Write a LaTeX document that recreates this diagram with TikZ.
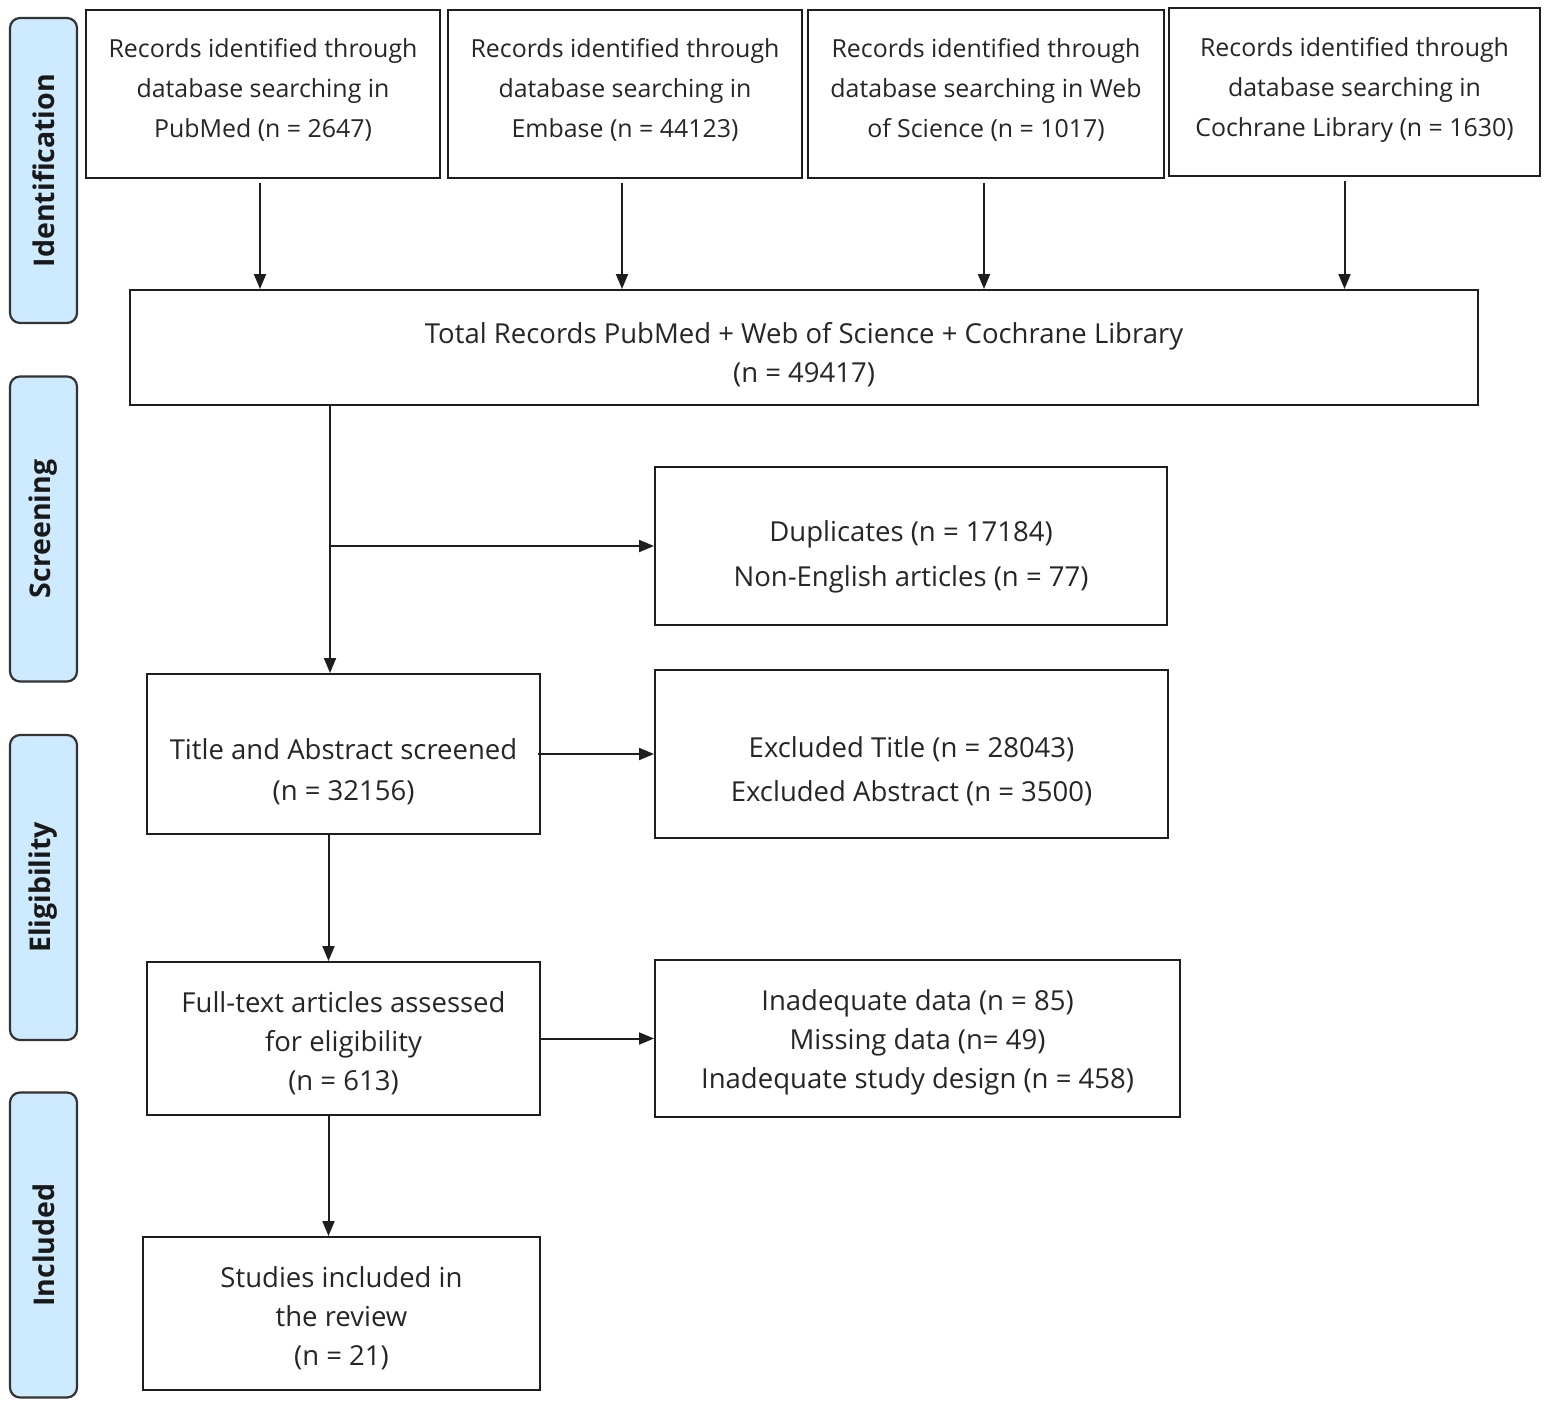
\documentclass[tikz,border=0pt]{standalone}
\usepackage{fontspec}
\setmainfont{Open Sans}
\usetikzlibrary{arrows.meta,calc}
\definecolor{barblue}{RGB}{206,234,255}
\definecolor{lineblk}{RGB}{30,30,30}
\begin{document}
\begin{tikzpicture}[x=1pt,y=-1pt,
  box/.style={draw=lineblk,line width=2pt,fill=white,inner sep=0pt},
  toptxt/.style={align=center,inner sep=0pt,text=black!85,font=\fontsize{24.9}{40}\selectfont},
  txt/.style={align=center,inner sep=0pt,text=black!85,font=\fontsize{27.5}{39}\selectfont},
  bar/.style={draw=black!80,line width=2.2pt,rounded corners=10pt,fill=barblue,
    minimum width=67pt,minimum height=305pt,inner sep=0pt},
  barlabel/.style={rotate=90,text=black!90,font=\bfseries\fontsize{28.5}{32}\selectfont},
  arr/.style={line width=2pt,draw=lineblk,-{Triangle[length=15pt,width=12pt]}},
  ln/.style={line width=2pt,draw=lineblk}]
\useasboundingbox (0,0) rectangle (1547,1407);
\fill[white] (0,0) rectangle (1547,1407);

% side bars
\node[bar] (b1) at (43.5,170.5) {};
\node[barlabel] (l1) at (b1.center) {Identification};
\node[bar] (b2) at (43.5,529) {};
\node[barlabel] (l2) at (b2.center) {Screening};
\node[bar] (b3) at (43.5,887.5) {};
\node[barlabel] (l3) at (b3.center) {Eligibility};
\node[bar] (b4) at (43.5,1245) {};
\node[barlabel] (l4) at (b4.center) {Included};

% top boxes
\node[box,minimum width=354pt,minimum height=168pt] (p1) at (263,94) {};
\node[toptxt] (p1t) at ([yshift=4pt]p1.center) {Records identified through\\database searching in\\PubMed (n = 2647)};
\node[box,minimum width=354pt,minimum height=168pt] (p2) at (625,94) {};
\node[toptxt] (p2t) at ([yshift=4pt]p2.center) {Records identified through\\database searching in\\Embase (n = 44123)};
\node[box,minimum width=356pt,minimum height=168pt] (p3) at (986,94) {};
\node[toptxt] (p3t) at ([yshift=4pt]p3.center) {Records identified through\\database searching in Web\\of Science (n = 1017)};
\node[box,minimum width=371pt,minimum height=168pt] (p4) at (1354.5,92) {};
\node[toptxt] (p4t) at ([yshift=2pt]p4.center) {Records identified through\\database searching in\\Cochrane Library (n = 1630)};

\node[box,minimum width=1348pt,minimum height=115pt] (tot) at (804,347.5) {};
\node[txt] (tott) at ([yshift=-7pt]tot.center) {Total Records PubMed + Web of Science + Cochrane Library\\(n = 49417)};

\node[box,minimum width=512pt,minimum height=158pt] (dup) at (911,546) {};
\node[txt] (dupt) at ([yshift=-11pt]dup.center) {Duplicates (n = 17184)\\[6pt]Non-English articles (n = 77)};

\node[box,minimum width=393pt,minimum height=160pt] (tit) at (343.5,754) {};
\node[txt] (titt) at ([yshift=-18pt]tit.center) {Title and Abstract screened\\[2pt](n = 32156)};

\node[box,minimum width=513pt,minimum height=168pt] (exc) at (911.5,754) {};
\node[txt] (exct) at ([yshift=-17pt]exc.center) {Excluded Title (n = 28043)\\[5pt]Excluded Abstract (n = 3500)};

\node[box,minimum width=393pt,minimum height=153pt] (ful) at (343.5,1038.5) {};
\node[txt] (fult) at ([yshift=-4.5pt]ful.center) {Full-text articles assessed\\for eligibility\\(n = 613)};

\node[box,minimum width=525pt,minimum height=157pt] (ina) at (917.5,1038.5) {};
\node[txt] (inat) at ([yshift=-4pt]ina.center) {Inadequate data (n = 85)\\Missing data (n= 49)\\Inadequate study design (n = 458)};

\node[box,minimum width=397pt,minimum height=153pt] (stu) at (341.5,1313.5) {};
\node[txt] (stut) at ([yshift=-5pt]stu.center) {Studies included in\\the review\\(n = 21)};

% arrows from databases
\foreach \n/\dx in {p1/-3,p2/-3,p3/-2,p4/-10}{
  \draw[arr,shorten <=4pt] ([xshift=\dx pt]\n.south) -- ([xshift=\dx pt]\n.south |- tot.north);
}
% main flow
\coordinate (t0) at ([xshift=-13.5pt]tit.north |- tot.south);
\coordinate (j1) at ([xshift=-13.5pt]tit.north |- dup.west);
\draw[ln] (t0) -- (j1);
\draw[arr] (j1) -- ([xshift=-13.5pt]tit.north);
\draw[arr] (j1) -- (dup.west);
\draw[arr] ([xshift=-3pt]tit.east) -- (exc.west);
\draw[arr] ([xshift=-15pt]tit.south) -- ([xshift=-15pt]ful.north);
\draw[arr] (ful.east) -- (ina.west);
\draw[arr] ([xshift=-15pt]ful.south) -- ([xshift=-13pt]stu.north);
\end{tikzpicture}
\end{document}
